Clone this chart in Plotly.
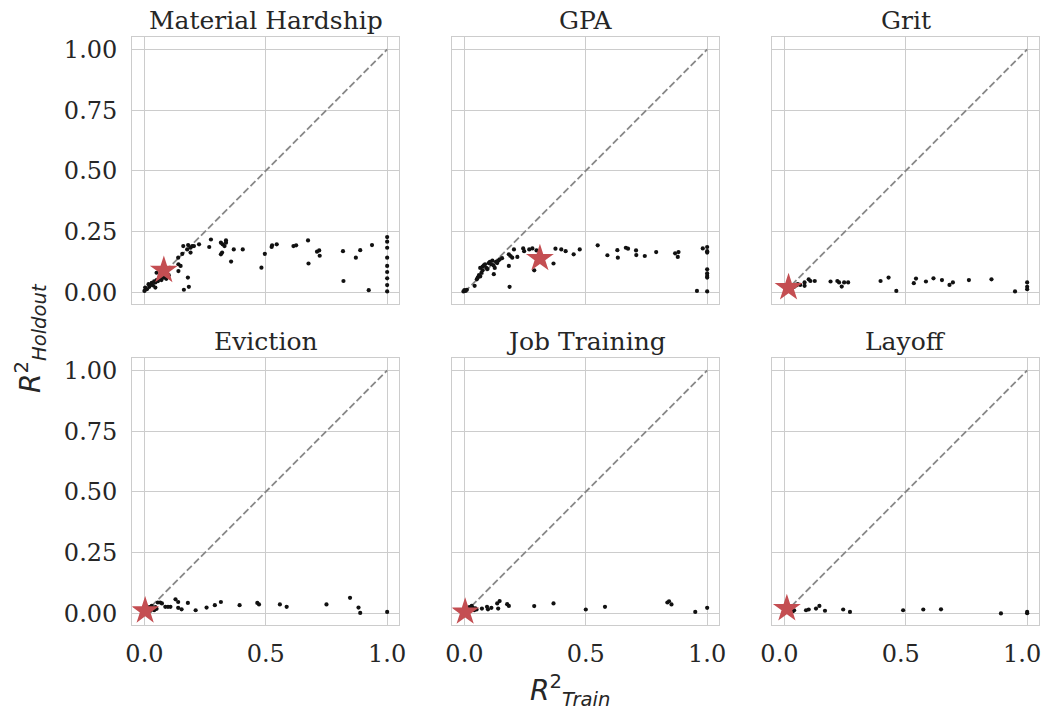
import plotly.graph_objects as go

titles = ["Material Hardship", "GPA", "Grit", "Eviction", "Job Training", "Layoff"]

mh_x = [0.0, 0.003, 0.01, 0.017, 0.02, 0.025, 0.03, 0.035, 0.04, 0.045, 0.045, 0.05, 0.05, 0.055, 0.06, 0.065, 0.07, 0.07, 0.075, 0.08, 0.085, 0.09, 0.095, 0.1, 0.14, 0.149, 0.14, 0.139, 0.156, 0.16, 0.176, 0.18, 0.19, 0.197, 0.204, 0.19, 0.225, 0.274, 0.267, 0.179, 0.183, 0.1625, 0.315, 0.322, 0.33, 0.336, 0.336, 0.315, 0.32, 0.357, 0.368, 0.405, 0.496, 0.482, 0.524, 0.526, 0.545, 0.614, 0.625, 0.674, 0.676, 0.711, 0.72, 0.722, 0.818, 0.82, 0.871, 0.889, 0.9375, 0.924, 1, 1, 1, 1, 1, 1, 1, 1, 1]
mh_y = [0.005, 0.019, 0.012, 0.033, 0.022, 0.03, 0.038, 0.028, 0.045, 0.019, 0.04, 0.08, 0.05, 0.045, 0.055, 0.06, 0.074, 0.05, 0.065, 0.06, 0.07, 0.055, 0.065, 0.07, 0.115, 0.108, 0.087, 0.142, 0.158, 0.19, 0.176, 0.194, 0.183, 0.19, 0.19, 0.163, 0.197, 0.217, 0.186, 0.06, 0.022, 0.01, 0.204, 0.197, 0.19, 0.213, 0.204, 0.156, 0.163, 0.126, 0.176, 0.176, 0.158, 0.101, 0.186, 0.193, 0.197, 0.19, 0.193, 0.213, 0.118, 0.167, 0.172, 0.15, 0.169, 0.046, 0.142, 0.173, 0.194, 0.008, 0.227, 0.208, 0.183, 0.142, 0.108, 0.083, 0.057, 0.029, 0.003]

gpa_x = [-0.004, 0.0, 0.005, 0.01, 0.042, 0.051, 0.055, 0.06, 0.065, 0.07, 0.075, 0.065, 0.075, 0.08, 0.085, 0.09, 0.095, 0.1, 0.105, 0.11, 0.115, 0.12, 0.125, 0.13, 0.135, 0.14, 0.145, 0.155, 0.121, 0.186, 0.183, 0.183, 0.19, 0.197, 0.204, 0.218, 0.242, 0.246, 0.267, 0.28, 0.297, 0.2875, 0.367, 0.375, 0.399, 0.417, 0.45, 0.475, 0.549, 0.589, 0.63, 0.632, 0.665, 0.674, 0.707, 0.708, 0.743, 0.79, 0.868, 0.882, 0.879, 0.982, 1, 1, 1, 1, 1, 1, 1, 0.958, 1]
gpa_y = [0.003, 0.008, 0.005, 0.01, 0.026, 0.053, 0.06, 0.07, 0.065, 0.08, 0.09, 0.1, 0.105, 0.11, 0.115, 0.1, 0.095, 0.12, 0.125, 0.115, 0.13, 0.11, 0.1, 0.125, 0.12, 0.13, 0.135, 0.14, 0.074, 0.022, 0.108, 0.156, 0.149, 0.142, 0.176, 0.145, 0.18, 0.169, 0.176, 0.18, 0.172, 0.09, 0.118, 0.179, 0.176, 0.169, 0.156, 0.176, 0.193, 0.152, 0.173, 0.142, 0.183, 0.179, 0.172, 0.153, 0.149, 0.165, 0.16, 0.165, 0.145, 0.18, 0.186, 0.169, 0.163, 0.094, 0.077, 0.067, 0.06, 0.005, 0.003]

grit_x = [0.003, 0.01, 0.015, 0.02, 0.025, 0.03, 0.035, 0.04, 0.045, 0.05, 0.055, 0.065, 0.083, 0.083, 0.1, 0.107, 0.125, 0.19, 0.218, 0.225, 0.236, 0.246, 0.2625, 0.396, 0.429, 0.461, 0.533, 0.542, 0.583, 0.614, 0.649, 0.68, 0.694, 0.76, 0.853, 0.95, 1, 1, 1]
grit_y = [0.005, 0.01, 0.015, 0.012, 0.02, 0.018, 0.025, 0.022, 0.03, 0.028, 0.033, 0.03, 0.04, 0.026, 0.053, 0.046, 0.046, 0.044, 0.046, 0.04, 0.023, 0.04, 0.04, 0.046, 0.06, 0.005, 0.037, 0.056, 0.044, 0.057, 0.05, 0.03, 0.04, 0.05, 0.053, 0.003, 0.04, 0.022, 0.012]

ev_x = [0.0, 0.005, 0.01, 0.015, 0.02, 0.025, 0.03, 0.035, 0.04, 0.045, 0.05, 0.055, 0.065, 0.072, 0.086, 0.097, 0.107, 0.128, 0.139, 0.139, 0.153, 0.179, 0.211, 0.256, 0.29, 0.315, 0.392, 0.465, 0.472, 0.558, 0.586, 0.75, 0.847, 0.882, 0.889, 1]
ev_y = [0.003, 0.01, 0.02, 0.015, 0.025, 0.01, 0.03, 0.02, 0.012, 0.025, 0.018, 0.044, 0.044, 0.04, 0.026, 0.026, 0.026, 0.057, 0.046, 0.022, 0.016, 0.042, 0.012, 0.023, 0.033, 0.046, 0.033, 0.042, 0.036, 0.036, 0.026, 0.036, 0.063, 0.023, 0.001, 0.005]

jt_x = [0.0, 0.005, 0.01, 0.015, 0.02, 0.025, 0.03, 0.035, 0.04, 0.045, 0.05, 0.072, 0.093, 0.097, 0.111, 0.135, 0.139, 0.145, 0.176, 0.183, 0.2875, 0.367, 0.5, 0.579, 0.836, 0.843, 0.853, 0.951, 1]
jt_y = [0.003, 0.01, 0.015, 0.02, 0.025, 0.018, 0.03, 0.022, 0.012, 0.02, 0.015, 0.019, 0.026, 0.016, 0.022, 0.04, 0.019, 0.05, 0.037, 0.03, 0.029, 0.04, 0.015, 0.026, 0.044, 0.049, 0.036, 0.005, 0.022]

lo_x = [0.0, 0.005, 0.01, 0.015, 0.02, 0.025, 0.03, 0.035, 0.04, 0.089, 0.1, 0.13, 0.144, 0.167, 0.242, 0.27, 0.489, 0.572, 0.645, 0.892, 1, 1]
lo_y = [0.002, 0.008, 0.012, 0.005, 0.015, 0.01, 0.02, 0.008, 0.012, 0.012, 0.015, 0.019, 0.03, 0.01, 0.015, 0.005, 0.012, 0.015, 0.016, -0.001, 0.005, 0.0]

star_x = [0.08, 0.311, 0.017, 0.003, 0.003, 0.01]
star_y = [0.09, 0.139, 0.019, 0.01, 0.005, 0.019]

diag = [0, 1]
x_ticks = [0.0, 0.5, 1.0]
x_tick_text = ["0.0", "0.5", "1.0"]
y_ticks = [0.0, 0.25, 0.5, 0.75, 1.0]
y_tick_text = ["0.00", "0.25", "0.50", "0.75", "1.00"]

panels_x = [mh_x, gpa_x, grit_x, ev_x, jt_x, lo_x]
panels_y = [mh_y, gpa_y, grit_y, ev_y, jt_y, lo_y]

# page body has an 8px margin; lay out in page pixels and convert
OFF = 8
W, H = 1049 - OFF, 719 - 2 * OFF
col_px = [(132.3, 399.3), (452.3, 719.3), (772.3, 1039.3)]
row_px = [(37.3, 304.3), (358.3, 625.3)]


def fx(px):
    return (px - OFF) / W


def fy(py):
    return 1 - (py - OFF) / H


TEXT = "#262626"
GRID = "#cccccc"
SERIF = "DejaVu Serif"

fig = go.Figure()
layout = dict(
    width=W, height=H, showlegend=False,
    paper_bgcolor="white", plot_bgcolor="white",
    margin=dict(l=0, r=0, t=0, b=0, autoexpand=False),
    annotations=[],
)

for i in range(6):
    r, c = divmod(i, 3)
    n = i + 1
    xa = "x" if n == 1 else f"x{n}"
    ya = "y" if n == 1 else f"y{n}"
    xk = "xaxis" if n == 1 else f"xaxis{n}"
    yk = "yaxis" if n == 1 else f"yaxis{n}"
    x0, x1 = col_px[c]
    y0, y1 = row_px[r]
    layout[xk] = dict(
        domain=[fx(x0), fx(x1)], anchor=ya, range=[-0.05, 1.05], automargin=False,
        tickvals=x_ticks, ticktext=x_tick_text, showticklabels=(r == 1),
        showgrid=True, gridcolor=GRID, gridwidth=1.2, zeroline=False,
        showline=True, linecolor=GRID, linewidth=1.4, mirror=True,
        ticks="outside", ticklen=7, tickcolor="rgba(0,0,0,0)",
        ticklabelshift=(-5 if c == 2 else 0), ticklabeloverflow="allow",
        tickfont=dict(family=SERIF, size=24, color=TEXT),
    )
    layout[yk] = dict(
        domain=[fy(y1), fy(y0)], anchor=xa, range=[-0.05, 1.05], automargin=False,
        tickvals=y_ticks, ticktext=y_tick_text, showticklabels=(c == 0),
        showgrid=True, gridcolor=GRID, gridwidth=1.2, zeroline=False,
        showline=True, linecolor=GRID, linewidth=1.4, mirror=True,
        ticks="outside", ticklen=9, tickcolor="rgba(0,0,0,0)",
        tickfont=dict(family=SERIF, size=24, color=TEXT),
    )
    fig.add_trace(go.Scatter(
        x=diag, y=diag, mode="lines", xaxis=xa, yaxis=ya,
        line=dict(color="#888888", width=1.8, dash="7px,3px"), hoverinfo="skip",
    ))
    fig.add_trace(go.Scatter(
        x=panels_x[i], y=panels_y[i], mode="markers", xaxis=xa, yaxis=ya,
        marker=dict(color="#111111", size=4.2, line=dict(width=0)),
    ))
    fig.add_trace(go.Scatter(
        x=[star_x[i]], y=[star_y[i]], mode="markers", xaxis=xa, yaxis=ya,
        marker=dict(color="#c44e52", size=21, symbol="star", line=dict(width=0)),
    ))
    layout["annotations"].append(dict(
        text=titles[i], xref="paper", yref="paper",
        x=fx((x0 + x1) / 2), y=fy(y0), xanchor="center", yanchor="bottom",
        yshift=0, showarrow=False,
        font=dict(family=SERIF, size=25, color=TEXT),
    ))

layout["annotations"].append(dict(
    text="<i>R</i><sup>2</sup><sub><i>Holdout</i></sub>", xref="paper", yref="paper",
    x=fx(30), y=fy(338), xanchor="center", yanchor="middle", textangle=-90,
    showarrow=False, font=dict(family="DejaVu Sans", size=28, color=TEXT),
))
layout["annotations"].append(dict(
    text="<i>R</i><sup>2</sup><sub><i>Train</i></sub>", xref="paper", yref="paper",
    x=fx(570), y=fy(690), xanchor="center", yanchor="middle",
    showarrow=False, font=dict(family="DejaVu Sans", size=28, color=TEXT),
))

fig.update_layout(**layout)
fig.write_html("out.html")
